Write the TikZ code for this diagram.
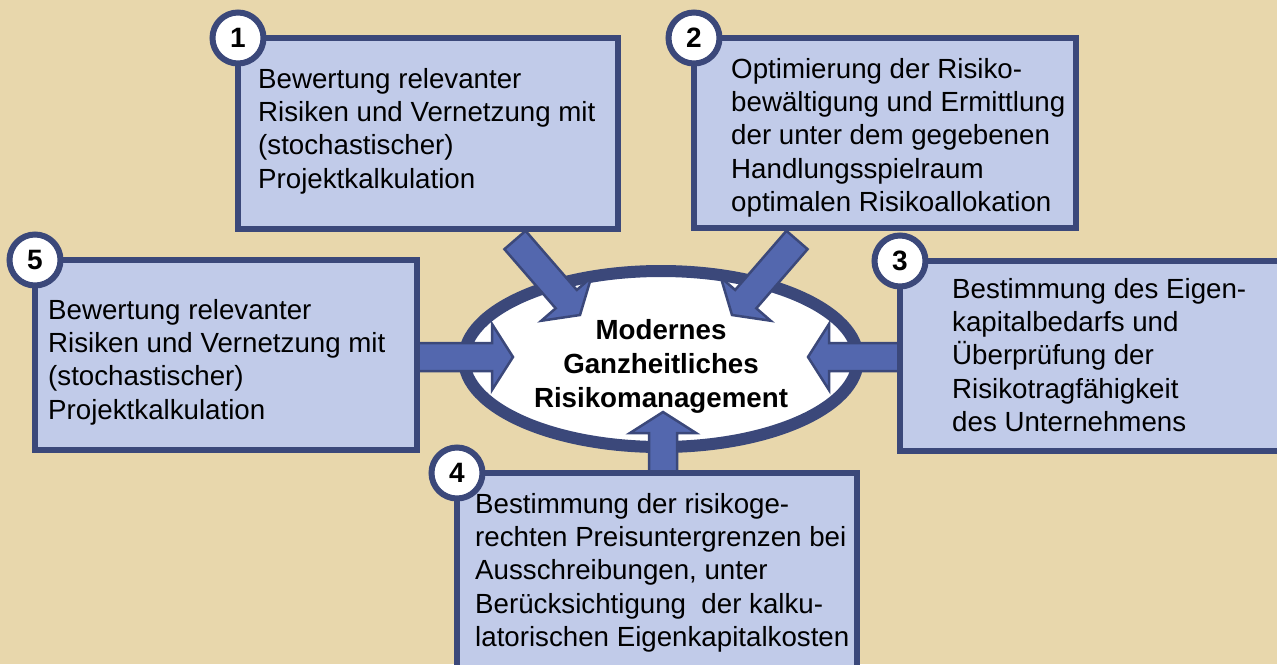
\documentclass[tikz,border=0pt]{standalone}
\usepackage{fontspec}
\setmainfont{Liberation Sans}
\usetikzlibrary{shapes.geometric,calc}

\definecolor{bgsand}{RGB}{232,215,172}
\definecolor{boxfill}{RGB}{193,203,233}
\definecolor{navy}{RGB}{59,72,122}
\definecolor{arrowblue}{RGB}{83,103,174}

% fixed height for the first text line, so every text block starts at a known baseline
\newcommand\firstline{\rule{0pt}{21pt}}

% broad block arrow from a tail coordinate to a tip coordinate
\newcommand\fatarrow[2]{%
  \coordinate (#2-base) at ($(#2)!21pt!(#1)$);
  \draw[blockarrow]
    ($(#1)!14pt!90:(#2)$) -- ($(#2-base)!14pt!90:(#2)$) --
    ($(#2-base)!33pt!90:(#2)$) -- (#2) --
    ($(#2-base)!33pt!-90:(#2)$) -- ($(#2-base)!14pt!-90:(#2)$) --
    ($(#1)!14pt!-90:(#2)$) -- cycle;}

\tikzset{
  box/.style={rectangle, draw=navy, fill=boxfill, line width=6pt,
    inner sep=0pt, outer sep=0pt, anchor=north west},
  num/.style={circle, draw=navy, fill=white, line width=6pt,
    minimum size=51pt, inner sep=0pt,
    font=\fontsize{28}{28}\selectfont\bfseries},
  txt/.style={anchor=north west, align=left, inner sep=0pt,
    font=\fontsize{27.7}{33.3}\selectfont},
  core/.style={ellipse, draw=navy, fill=white, line width=12pt,
    minimum width=394pt, minimum height=176pt, inner sep=0pt},
  coretxt/.style={anchor=north, align=center, inner sep=0pt,
    font=\fontsize{27.7}{34}\selectfont\bfseries},
  blockarrow/.style={draw=navy, fill=arrowblue, line width=2.5pt, line join=miter},
}

\begin{document}
\begin{tikzpicture}[x=1pt, y=-1pt]
  \useasboundingbox (0,0) rectangle (1277,664);
  \fill[bgsand] (0,0) rectangle (1277,664);
  \clip (0,0) rectangle (1277,664);

  % central ellipse
  \node[core] (core) at (661,359) {};

  % arrow ends
  \coordinate (a1t) at (515,240);  \coordinate (a1h) at (580,315);
  \coordinate (a2t) at (797,240);  \coordinate (a2h) at (732,315);
  \coordinate (a3t) at (903,357);  \coordinate (a3h) at (808,357);
  \coordinate (a4t) at (663,476);  \coordinate (a4h) at (663,412);
  \coordinate (a5t) at (414,357);  \coordinate (a5h) at (513,357);

  \fatarrow{a1t}{a1h}
  \fatarrow{a2t}{a2h}
  \fatarrow{a3t}{a3h}
  \fatarrow{a4t}{a4h}
  \fatarrow{a5t}{a5h}

  % the five boxes
  \node[box, minimum width=380pt, minimum height=191pt] (b1) at (238,38) {};
  \node[box, minimum width=382pt, minimum height=190pt] (b2) at (694,38) {};
  \node[box, minimum width=380pt, minimum height=190pt] (b3) at (900,261) {};
  \node[box, minimum width=400pt, minimum height=220pt] (b4) at (457,473) {};
  \node[box, minimum width=382pt, minimum height=190pt] (b5) at (35,260) {};

  % numbered badges on the box corners
  \node[num] (n1) at (b1.north west) {1};
  \node[num] (n2) at (b2.north west) {2};
  \node[num] (n3) at (b3.north west) {3};
  \node[num] (n4) at (b4.north west) {4};
  \node[num] (n5) at (b5.north west) {5};

  % box texts
  \node[txt] (t1) at (258,67) {\firstline Bewertung relevanter\\Risiken und Vernetzung mit\\(stochastischer)\\Projektkalkulation};
  \node[txt] (t2) at (731,57) {\firstline Optimierung der Risiko-\\bewältigung und Ermittlung\\der unter dem gegebenen\\Handlungsspielraum\\optimalen Risikoallokation};
  \node[txt] (t3) at (952,277) {\firstline Bestimmung des Eigen-\\kapitalbedarfs und\\Überprüfung der\\Risikotragfähigkeit\\des Unternehmens};
  \node[txt] (t4) at (475,492) {\firstline Bestimmung der risikoge-\\rechten Preisuntergrenzen bei\\Ausschreibungen, unter\\Berücksichtigung\ \ der kalku-\\latorischen Eigenkapitalkosten};
  \node[txt] (t5) at (48,298) {\firstline Bewertung relevanter\\Risiken und Vernetzung mit\\(stochastischer)\\Projektkalkulation};

  % centre text
  \node[coretxt] (ct) at (661,318) {\firstline Modernes\\Ganzheitliches\\Risikomanagement};
\end{tikzpicture}
\end{document}
